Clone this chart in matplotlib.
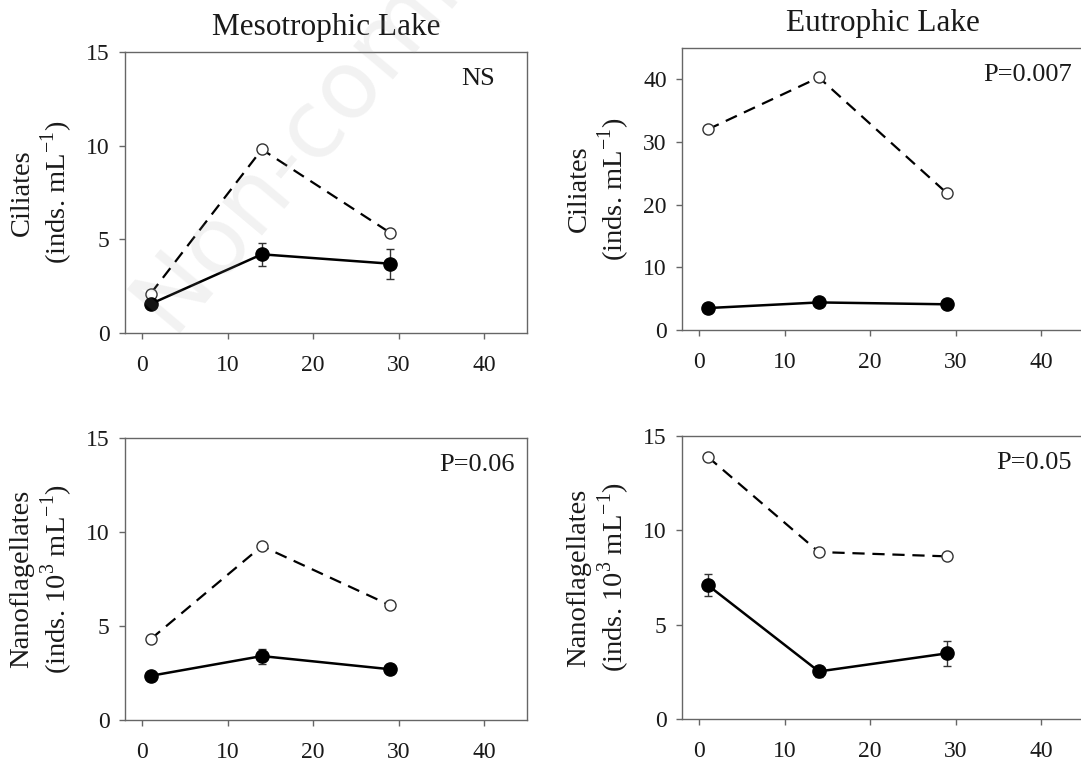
import matplotlib
matplotlib.use("Agg")
import matplotlib.pyplot as plt

plt.rcParams['font.family'] = ['Liberation Serif', 'DejaVu Serif']
plt.rcParams['mathtext.fontset'] = 'custom'
plt.rcParams['mathtext.rm'] = 'Liberation Serif'

# sampling days
days = [1, 14, 29]

# Mesotrophic lake, ciliates (inds. mL-1)
meso_cil_open = [2.1, 9.8, 5.35]
meso_cil_fill = [1.55, 4.2, 3.7]
meso_cil_err = [0.1, 0.6, 0.8]

# Eutrophic lake, ciliates
eu_cil_open = [32.0, 40.3, 21.8]
eu_cil_fill = [3.5, 4.4, 4.1]
eu_cil_err = [0.3, 0.3, 0.3]

# Mesotrophic lake, nanoflagellates (10^3 mL-1)
meso_nano_open = [4.3, 9.25, 6.1]
meso_nano_fill = [2.35, 3.4, 2.7]
meso_nano_err = [0.15, 0.4, 0.15]

# Eutrophic lake, nanoflagellates
eu_nano_open = [13.9, 8.85, 8.62]
eu_nano_fill = [7.1, 2.52, 3.48]
eu_nano_err = [0.6, 0.3, 0.65]

titles = ['Mesotrophic Lake', 'Eutrophic Lake']
ylabels = ['Ciliates\n(inds. mL$^{-1}$)', 'Nanoflagellates\n(inds. 10$^3$ mL$^{-1}$)']
stats = ['NS', 'P=0.007', 'P=0.06', 'P=0.05']
xticks = [0, 10, 20, 30, 40]

W, H = 1081, 765
fig = plt.figure(figsize=(W / 100, H / 100), dpi=100)


def px_axes(left, top, right, bottom):
    return fig.add_axes([left / W, 1 - bottom / H, (right - left) / W, (bottom - top) / H])


axes = [
    px_axes(125, 52, 527, 333),
    px_axes(682, 48, 1084, 330),
    px_axes(125, 438, 527, 720),
    px_axes(682, 436, 1084, 719),
]

panels = [
    (meso_cil_open, meso_cil_fill, meso_cil_err, [0, 5, 10, 15], (0, 15)),
    (eu_cil_open, eu_cil_fill, eu_cil_err, [0, 10, 20, 30, 40], (0, 45)),
    (meso_nano_open, meso_nano_fill, meso_nano_err, [0, 5, 10, 15], (0, 15)),
    (eu_nano_open, eu_nano_fill, eu_nano_err, [0, 5, 10, 15], (0, 15)),
]

spine_col = '#666666'
text_col = '#1a1a1a'

for i, (ax, (yo, yf, ye, yt, ylim)) in enumerate(zip(axes, panels)):
    ax.plot(days, yo, color='black', lw=1.6, ls=(0, (5.5, 3.5)), marker='o',
            ms=8, mfc='white', mec='#333333', mew=1.0, zorder=3)
    ax.errorbar(days, yf, yerr=ye, color='black', lw=1.8, marker='o', ms=9.5,
                mfc='black', mec='black', ecolor='#333333', elinewidth=1.0,
                capsize=3, capthick=1.0, zorder=4)
    ax.set_xlim(-2, 45)
    ax.set_ylim(*ylim)
    ax.set_xticks(xticks)
    ax.set_yticks(yt)
    for s in ax.spines.values():
        s.set_color(spine_col)
        s.set_linewidth(1.0)
    ax.tick_params(direction='out', length=4, width=1.0, color=spine_col,
                   labelsize=17, labelcolor=text_col)
    ax.tick_params(axis='x', pad=12)
    ax.tick_params(axis='y', pad=7)
    ax.text(0.92 if i == 0 else 0.97, 0.905, stats[i], transform=ax.transAxes,
            ha='right', va='center', fontsize=19, color=text_col)
    ax.set_ylabel(ylabels[i // 2], fontsize=20.5, color=text_col, labelpad=8,
                  linespacing=1.15)
    if i < 2:
        ax.set_title(titles[i], fontsize=22.5, color=text_col, pad=12)

# faint watermark from the source page
fig.text(175 / W, 1 - 340 / H, 'Non-commercial use only', fontsize=68,
         family='DejaVu Sans', color='#999999', alpha=0.13, rotation=50,
         rotation_mode='anchor', ha='left', va='baseline', zorder=10)

fig.savefig('out.png', dpi=100)
